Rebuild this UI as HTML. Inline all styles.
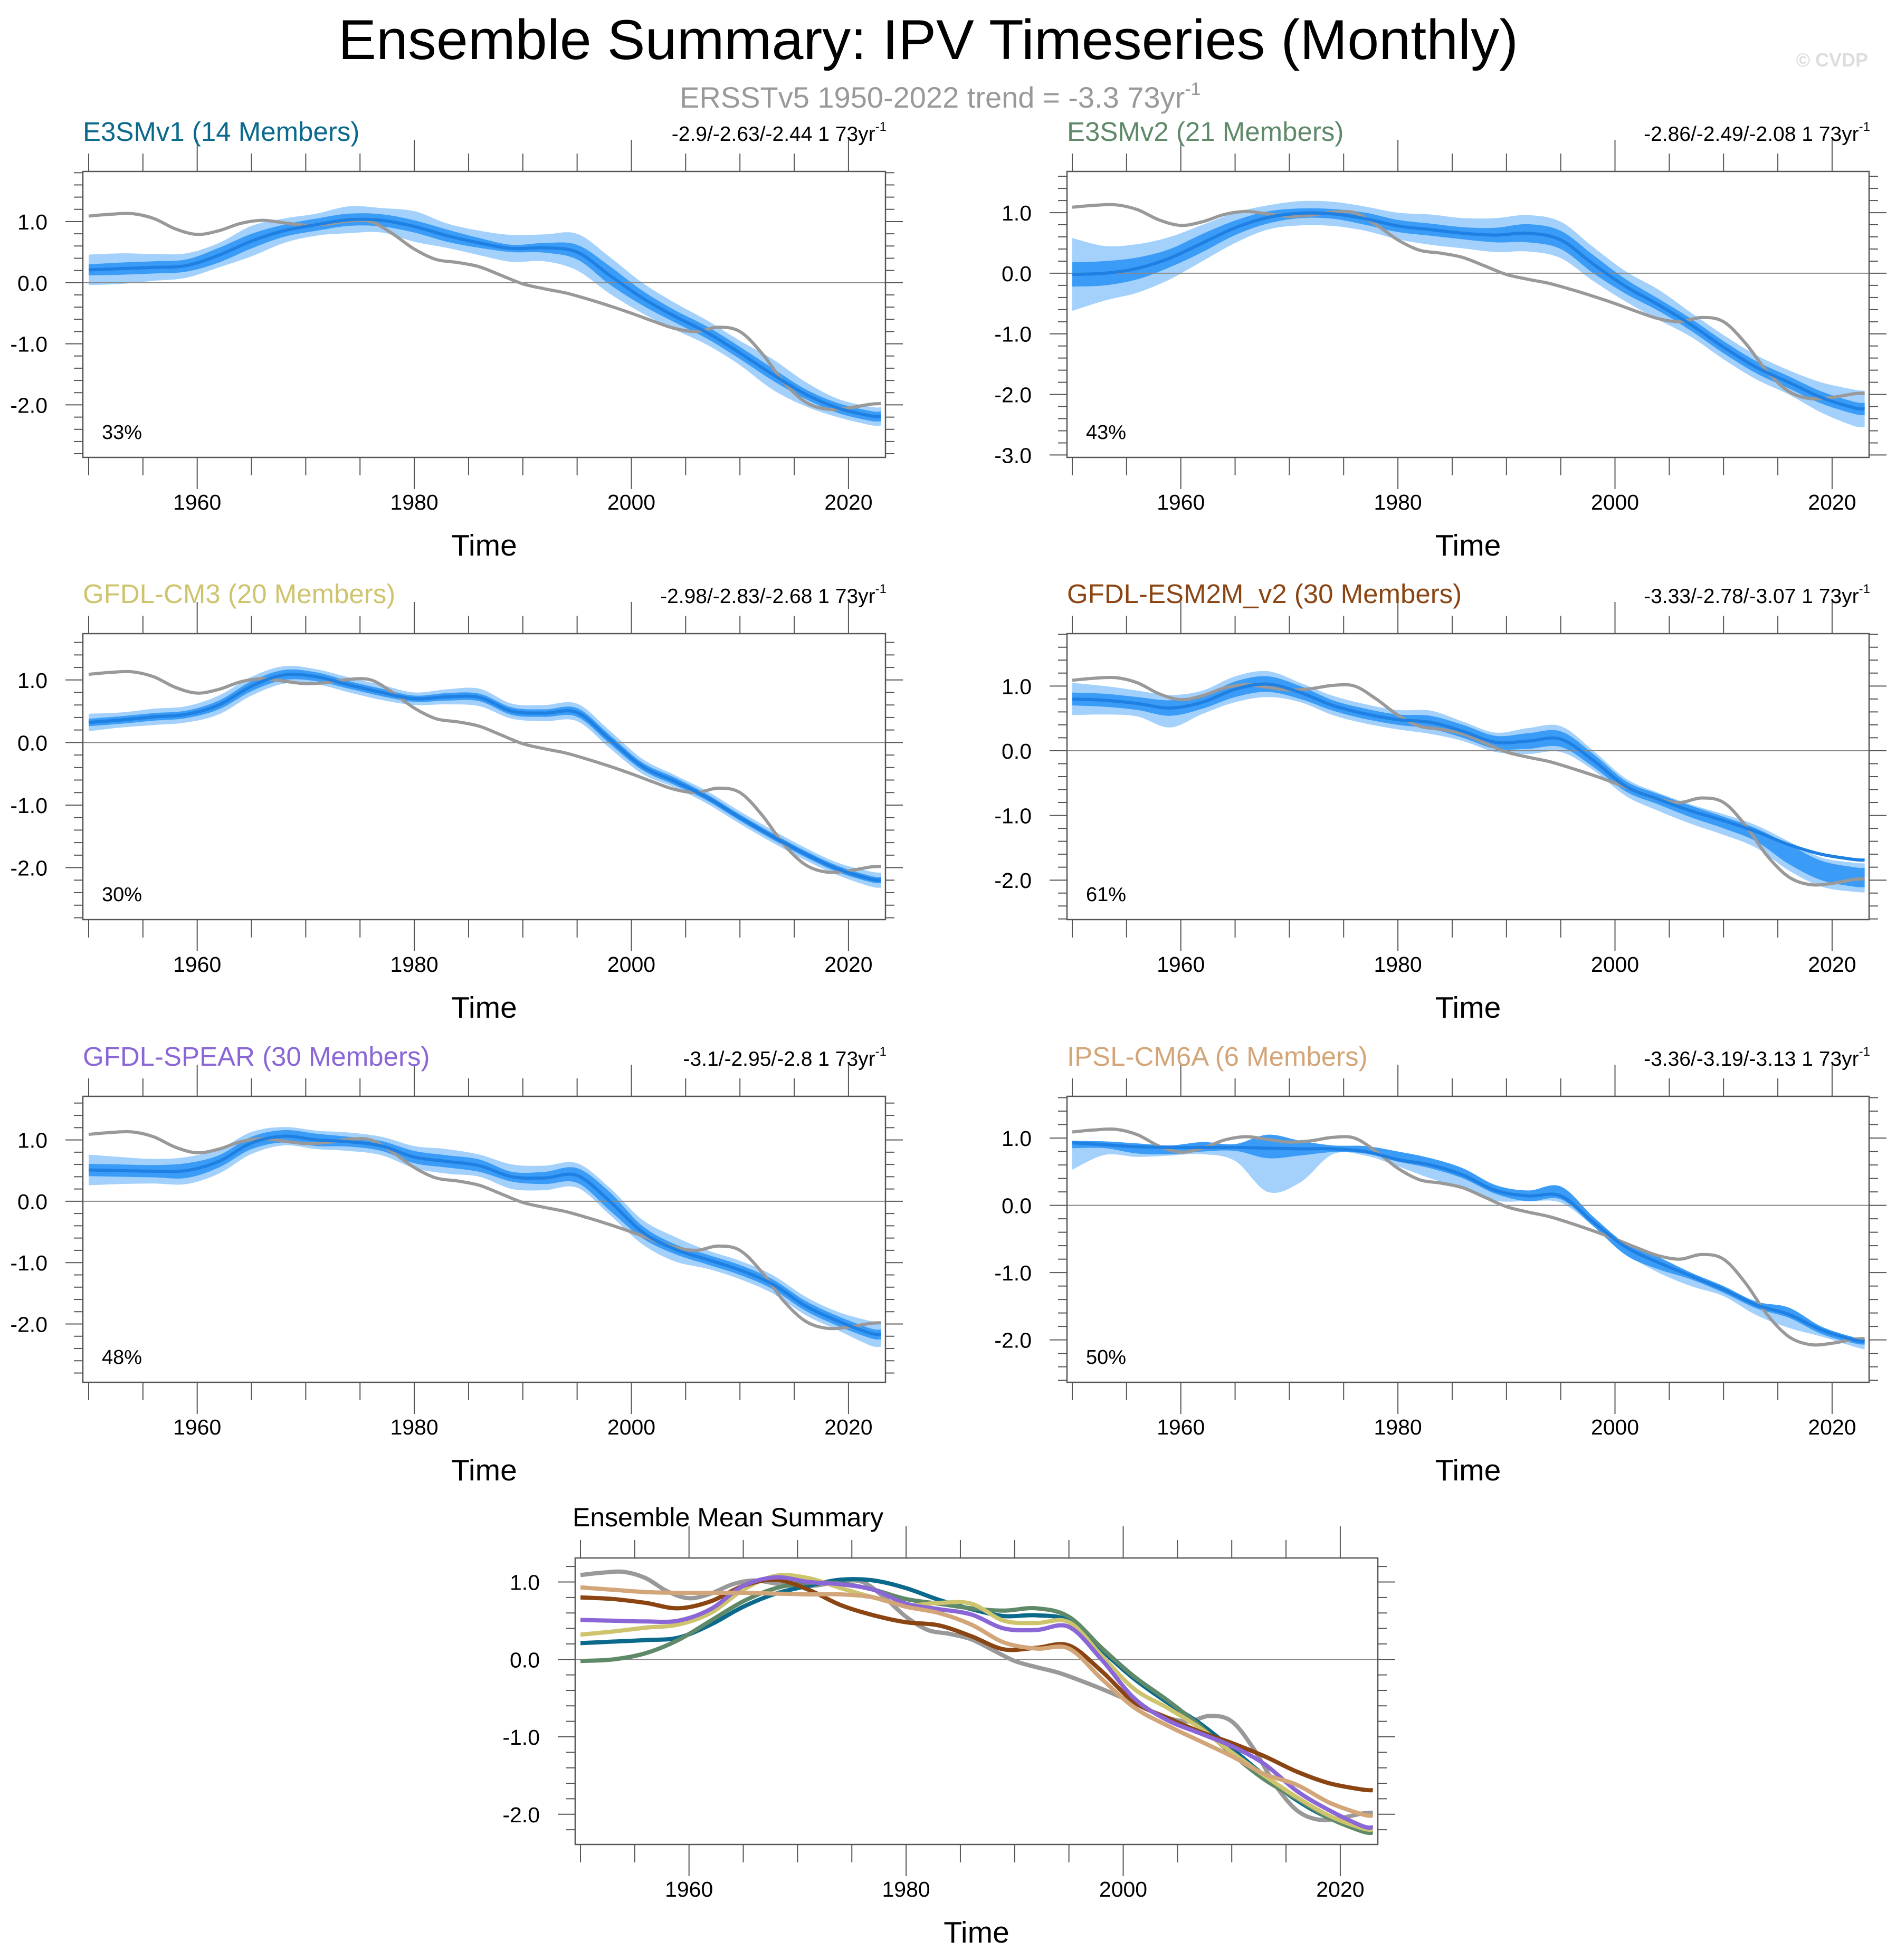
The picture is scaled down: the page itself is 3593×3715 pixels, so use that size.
<!DOCTYPE html>
<html><head><meta charset="utf-8"><style>
html,body{margin:0;padding:0;background:#fff}
svg{display:block;font-family:"Liberation Sans",Arial,sans-serif}
</style></head><body>
<svg id="fig" width="3593" height="3715" viewBox="0 0 3593 3715" xmlns="http://www.w3.org/2000/svg">
<rect width="3593" height="3715" fill="#fff"/>
<text x="1759" y="112" font-size="107" text-anchor="middle" textLength="2236" lengthAdjust="spacingAndGlyphs">Ensemble Summary: IPV Timeseries (Monthly)</text>
<text x="1288" y="204" font-size="56" fill="#999">ERSSTv5 1950-2022 trend = -3.3 73yr<tspan font-size="34" dy="-24">-1</tspan></text>
<text x="3540" y="126" font-size="36" fill="#ddd" text-anchor="end" font-weight="bold">© CVDP</text>
<text x="1085" y="2893" font-size="50">Ensemble Mean Summary</text>
</svg>
<script>
const MODEL_YEARS=[1950,1953,1956,1959,1962,1965,1968,1971,1974,1977,1980,1983,1986,1989,1992,1995,1998,2001,2004,2007,2010,2013,2016,2019,2022,2023];
const OBS_YEARS=[1950,1952,1954,1956,1958,1960,1962,1964,1966,1968,1970,1972,1974,1976,1978,1980,1982,1984,1986,1988,1990,1992,1994,1996,1998,2000,2002,2004,2006,2008,2010,2012,2014,2016,2018,2020,2022,2023];
const OBS_VALUES=[1.09,1.12,1.13,1.05,0.88,0.79,0.85,0.97,1.02,0.98,0.94,0.96,1.01,1.0,0.8,0.55,0.38,0.33,0.26,0.12,-0.02,-0.1,-0.17,-0.27,-0.38,-0.5,-0.63,-0.75,-0.8,-0.73,-0.8,-1.15,-1.62,-1.95,-2.07,-2.05,-1.99,-1.98];

const E3SMV1_MEAN=[0.21,0.23,0.25,0.28,0.45,0.68,0.85,0.95,1.03,1.02,0.92,0.77,0.65,0.56,0.57,0.5,0.12,-0.25,-0.55,-0.82,-1.15,-1.5,-1.82,-2.05,-2.18,-2.19];
const E3SMV1_DARK=[0.09,0.1,0.1,0.1,0.12,0.12,0.1,0.1,0.1,0.1,0.1,0.1,0.08,0.06,0.08,0.12,0.15,0.12,0.1,0.1,0.1,0.1,0.08,0.08,0.08,0.08];
const E3SMV1_LIGHT=[0.25,0.25,0.22,0.2,0.2,0.25,0.2,0.18,0.22,0.2,0.25,0.2,0.2,0.22,0.22,0.3,0.3,0.25,0.22,0.2,0.2,0.25,0.2,0.15,0.15,0.15];

const E3SMV2_MEAN=[-0.02,0.0,0.08,0.25,0.5,0.75,0.92,0.99,0.98,0.9,0.78,0.72,0.66,0.63,0.66,0.55,0.15,-0.22,-0.52,-0.85,-1.22,-1.55,-1.8,-2.05,-2.22,-2.24];
const E3SMV2_DARK=[0.2,0.2,0.18,0.15,0.15,0.12,0.1,0.08,0.08,0.1,0.1,0.1,0.1,0.12,0.15,0.15,0.15,0.12,0.1,0.1,0.1,0.1,0.1,0.1,0.1,0.1];
const E3SMV2_LIGHT=[0.6,0.45,0.4,0.35,0.3,0.25,0.2,0.2,0.2,0.2,0.22,0.25,0.25,0.28,0.3,0.3,0.28,0.25,0.25,0.2,0.2,0.2,0.2,0.25,0.3,0.3];

const CM3_MEAN=[0.32,0.36,0.41,0.45,0.6,0.9,1.08,1.05,0.92,0.8,0.7,0.73,0.72,0.5,0.47,0.48,0.05,-0.38,-0.62,-0.88,-1.2,-1.5,-1.78,-2.02,-2.18,-2.2];
const CM3_DARK=[0.06,0.06,0.06,0.06,0.07,0.08,0.08,0.07,0.06,0.06,0.05,0.06,0.06,0.06,0.06,0.07,0.07,0.06,0.06,0.05,0.05,0.05,0.05,0.05,0.05,0.05];
const CM3_LIGHT=[0.14,0.12,0.13,0.13,0.15,0.15,0.14,0.12,0.12,0.12,0.1,0.12,0.14,0.12,0.13,0.14,0.14,0.12,0.1,0.1,0.1,0.1,0.1,0.1,0.12,0.12];

const ESM2M_MEAN=[0.8,0.78,0.73,0.66,0.75,0.95,1.03,0.9,0.7,0.57,0.48,0.44,0.3,0.13,0.15,0.18,-0.15,-0.55,-0.75,-0.93,-1.08,-1.25,-1.45,-1.6,-1.68,-1.69];
const ESM2M_DARK_UP=[0.1,0.1,0.1,0.12,0.1,0.12,0.12,0.1,0.08,0.08,0.08,0.1,0.1,0.1,0.12,0.12,0.1,0.08,0.08,0.08,0.06,0.05,0.0,-0.1,-0.12,-0.12];
const ESM2M_DARK_DOWN=[0.1,0.1,0.1,0.12,0.1,0.12,0.12,0.1,0.08,0.08,0.08,0.1,0.1,0.1,0.12,0.12,0.1,0.08,0.08,0.1,0.12,0.15,0.3,0.4,0.42,0.42];
const ESM2M_LIGHT_UP=[0.25,0.22,0.2,0.2,0.18,0.2,0.2,0.15,0.15,0.15,0.15,0.18,0.15,0.15,0.2,0.2,0.15,0.12,0.1,0.1,0.1,0.1,0.05,-0.05,-0.05,-0.05];
const ESM2M_LIGHT_DOWN=[0.25,0.22,0.2,0.3,0.18,0.2,0.2,0.15,0.15,0.15,0.15,0.18,0.15,0.15,0.2,0.2,0.15,0.15,0.18,0.2,0.22,0.25,0.4,0.5,0.5,0.5];

const SPEAR_MEAN=[0.51,0.5,0.49,0.5,0.65,0.95,1.06,1.0,0.97,0.9,0.72,0.65,0.58,0.4,0.38,0.42,0.0,-0.5,-0.78,-0.95,-1.12,-1.35,-1.7,-1.95,-2.15,-2.17];
const SPEAR_DARK=[0.1,0.1,0.1,0.12,0.1,0.1,0.1,0.1,0.08,0.08,0.1,0.1,0.1,0.08,0.1,0.12,0.15,0.1,0.08,0.08,0.08,0.08,0.08,0.08,0.08,0.08];
const SPEAR_LIGHT=[0.25,0.22,0.2,0.22,0.2,0.18,0.15,0.15,0.15,0.15,0.18,0.2,0.18,0.2,0.2,0.2,0.22,0.2,0.2,0.15,0.15,0.15,0.15,0.15,0.2,0.2];

const IPSL_MEAN=[0.93,0.9,0.87,0.86,0.86,0.86,0.85,0.84,0.84,0.8,0.68,0.6,0.45,0.22,0.14,0.14,-0.25,-0.62,-0.85,-1.05,-1.25,-1.48,-1.62,-1.85,-2.0,-2.02];
const IPSL_DARK_UP=[0.03,0.05,0.05,0.03,0.08,0.05,0.2,0.12,0.05,0.08,0.12,0.1,0.1,0.08,0.08,0.14,0.08,0.05,0.08,0.05,0.05,0.05,0.1,0.05,0.04,0.04];
const IPSL_DARK_DOWN=[0.08,0.05,0.1,0.1,0.06,0.05,0.15,0.1,0.05,0.03,0.03,0.05,0.05,0.05,0.08,0.05,0.06,0.12,0.1,0.05,0.05,0.05,0.05,0.06,0.05,0.05];
const IPSL_LIGHT_DOWN=[0.4,0.15,0.15,0.12,0.1,0.2,0.65,0.5,0.08,0.06,0.1,0.2,0.2,0.15,0.08,0.1,0.06,0.1,0.15,0.15,0.1,0.15,0.2,0.1,0.1,0.12];

const MODEL_NAMES=["E3SMv1 (14 Members)","E3SMv2 (21 Members)","GFDL-CM3 (20 Members)","GFDL-ESM2M_v2 (30 Members)","GFDL-SPEAR (30 Members)","IPSL-CM6A (6 Members)"];
const MODEL_TRENDS=["-2.9/-2.63/-2.44 1 73yr","-2.86/-2.49/-2.08 1 73yr","-2.98/-2.83/-2.68 1 73yr","-3.33/-2.78/-3.07 1 73yr","-3.1/-2.95/-2.8 1 73yr","-3.36/-3.19/-3.13 1 73yr"];
const MODEL_PERCENTS=["33%","43%","30%","61%","48%","50%"];
const X_TICK_LABELS=[1960,1980,2000,2020];
const Y_TICK_LABELS_STD=[1,0,-1,-2];
const Y_TICK_LABELS_V2=[1,0,-1,-2,-3];

const COLORS=["#0b6a8c","#5f8a6a","#cfc46e","#8b4513","#8a66d6","#d2a679"];
const NS="http://www.w3.org/2000/svg";
const svg=document.getElementById('fig');

function el(tag,attrs,parent){const e=document.createElementNS(NS,tag);for(const k in attrs)e.setAttribute(k,attrs[k]);(parent||svg).appendChild(e);return e;}
function curve(pts,move){
  let d=(move?'M':'L')+pts[0][0].toFixed(1)+','+pts[0][1].toFixed(1);
  for(let i=0;i<pts.length-1;i++){
    const p0=pts[i-1]||pts[i],p1=pts[i],p2=pts[i+1],p3=pts[i+2]||p2;
    const c1=[p1[0]+(p2[0]-p0[0])/6,p1[1]+(p2[1]-p0[1])/6];
    const c2=[p2[0]-(p3[0]-p1[0])/6,p2[1]-(p3[1]-p1[1])/6];
    d+=' C'+c1[0].toFixed(1)+','+c1[1].toFixed(1)+' '+c2[0].toFixed(1)+','+c2[1].toFixed(1)+' '+p2[0].toFixed(1)+','+p2[1].toFixed(1);
  }
  return d;
}

function makeAxes(P){
  const xs=yr=>P.x0+P.xoff+(yr-1950)*20.57;
  const ys=v=>P.y0+(P.ymax-v)/(P.ymax-P.ymin)*P.h;
  return {xs,ys};
}

function drawFrame(P,ax,g,yTicks){
  const zl=el('line',{x1:P.x0,x2:P.x0+P.w,y1:ax.ys(0),y2:ax.ys(0),stroke:'#888','stroke-width':2},g);
  
  
  const tg=el('g',{stroke:'#555','stroke-width':2},g);
  
  
  for(let k=Math.ceil(P.ymin*5);k<=Math.floor(P.ymax*5);k++){
    const v=k/5,y=ax.ys(v),major=(k%5===0),L=major?33:17;
    el('line',{x1:P.x0-L,x2:P.x0,y1:y,y2:y},tg);
    el('line',{x1:P.x0+P.w,x2:P.x0+P.w+L,y1:y,y2:y},tg);
  }
  for(let yr=1950;yr<=2020;yr+=5){
    const x=ax.xs(yr),major=(yr%20===0),L=major?60:34;
    el('line',{x1:x,x2:x,y1:P.y0-L,y2:P.y0},tg);
    el('line',{x1:x,x2:x,y1:P.y0+P.h,y2:P.y0+P.h+L},tg);
  }
  const fr=el('rect',{x:P.x0,y:P.y0,width:P.w,height:P.h,fill:'none',stroke:'#555','stroke-width':2.5},g);
  
  
  yTicks.forEach(v=>{
    const t=el('text',{x:P.x0-67,y:ax.ys(v)+15,'font-size':41,'text-anchor':'end'},g);
    
    
    t.textContent=v.toFixed(1);
  });
  X_TICK_LABELS.forEach(yr=>{
    const t=el('text',{x:ax.xs(yr),y:P.y0+P.h+99,'font-size':41,'text-anchor':'middle'},g);
    
    
    t.textContent=yr;
  });
  const xt=el('text',{x:P.x0+P.w/2,y:P.y0+P.h+186,'font-size':57,'text-anchor':'middle'},g);
  
  
  xt.textContent='Time';
}

function drawObs(ax,g,width){
  const pts=OBS_YEARS.map((y,i)=>[ax.xs(y),ax.ys(OBS_VALUES[i])]);
  const p=el('path',{d:curve(pts,true),fill:'none',stroke:'#999','stroke-width':width,'stroke-linejoin':'round'},g);
  
  
}

function band(ax,mean,up,down){
  const upper=MODEL_YEARS.map((y,i)=>[ax.xs(y),ax.ys(mean[i]+up[i])]);
  const lower=MODEL_YEARS.map((y,i)=>[ax.xs(y),ax.ys(mean[i]-down[i])]).reverse();
  return curve(upper,true)+' '+curve(lower,false)+' Z';
}

const COLS=[157,2022];const ROWS=[325,1201,2078];
const PANELS=[
 {mean:E3SMV1_MEAN,dU:E3SMV1_DARK,dD:E3SMV1_DARK,lU:E3SMV1_LIGHT,lD:E3SMV1_LIGHT,ymin:-2.86,ymax:1.82,ticks:Y_TICK_LABELS_STD},
 {mean:E3SMV2_MEAN,dU:E3SMV2_DARK,dD:E3SMV2_DARK,lU:E3SMV2_LIGHT,lD:E3SMV2_LIGHT,ymin:-3.04,ymax:1.68,ticks:Y_TICK_LABELS_V2},
 {mean:CM3_MEAN,dU:CM3_DARK,dD:CM3_DARK,lU:CM3_LIGHT,lD:CM3_LIGHT,ymin:-2.83,ymax:1.74,ticks:Y_TICK_LABELS_STD},
 {mean:ESM2M_MEAN,dU:ESM2M_DARK_UP,dD:ESM2M_DARK_DOWN,lU:ESM2M_LIGHT_UP,lD:ESM2M_LIGHT_DOWN,ymin:-2.61,ymax:1.81,ticks:Y_TICK_LABELS_STD},
 {mean:SPEAR_MEAN,dU:SPEAR_DARK,dD:SPEAR_DARK,lU:SPEAR_LIGHT,lD:SPEAR_LIGHT,ymin:-2.95,ymax:1.71,ticks:Y_TICK_LABELS_STD},
 {mean:IPSL_MEAN,dU:IPSL_DARK_UP,dD:IPSL_DARK_DOWN,lU:IPSL_DARK_UP,lD:IPSL_LIGHT_DOWN,ymin:-2.63,ymax:1.62,ticks:Y_TICK_LABELS_STD}
];

PANELS.forEach((M,i)=>{
  const col=i%2,row=Math.floor(i/2);
  const P={x0:COLS[col],y0:ROWS[row],w:col?1520:1521,h:542,xoff:col?10:11,ymin:M.ymin,ymax:M.ymax};
  const ax=makeAxes(P);
  const g=el('g',{});
  
  
  const lb=el('path',{d:band(ax,M.mean,M.lU,M.lD),fill:'#a3d1fc'},g);
  
  
  const db=el('path',{d:band(ax,M.mean,M.dU,M.dD),fill:'#3a9cf6'},g);
  
  
  drawFrame(P,ax,g,M.ticks);
  drawObs(ax,g,6);
  const mp=MODEL_YEARS.map((y,k)=>[ax.xs(y),ax.ys(M.mean[k])]);
  const ml=el('path',{d:curve(mp,true),fill:'none',stroke:'#1f80e4','stroke-width':6},g);
  
  
  const t=el('text',{x:P.x0,y:P.y0-58,'font-size':51,fill:COLORS[i]},g);
  
  
  t.textContent=MODEL_NAMES[i];
  const tr=el('text',{x:P.x0+P.w+2,y:P.y0-58,'font-size':39,'text-anchor':'end'},g);
  
  
  tr.appendChild(document.createTextNode(MODEL_TRENDS[i]));
  const sup=el('tspan',{'font-size':24,dy:-19},tr);
  sup.textContent='-1';
  const pc=el('text',{x:P.x0+36,y:P.y0+P.h-35,'font-size':38},g);
  
  
  pc.textContent=MODEL_PERCENTS[i];
});

(function(){
  const P={x0:1090,y0:2953,w:1521,h:543,xoff:10,ymin:-2.39,ymax:1.31};
  const ax=makeAxes(P);
  const g=el('g',{});
  
  
  drawFrame(P,ax,g,Y_TICK_LABELS_STD);
  drawObs(ax,g,8);
  PANELS.forEach((M,i)=>{
    const mp=MODEL_YEARS.map((y,k)=>[ax.xs(y),ax.ys(M.mean[k])]);
    const l=el('path',{d:curve(mp,true),fill:'none',stroke:COLORS[i],'stroke-width':8},g);
    
    
  });
})();
</script>
</body></html>
